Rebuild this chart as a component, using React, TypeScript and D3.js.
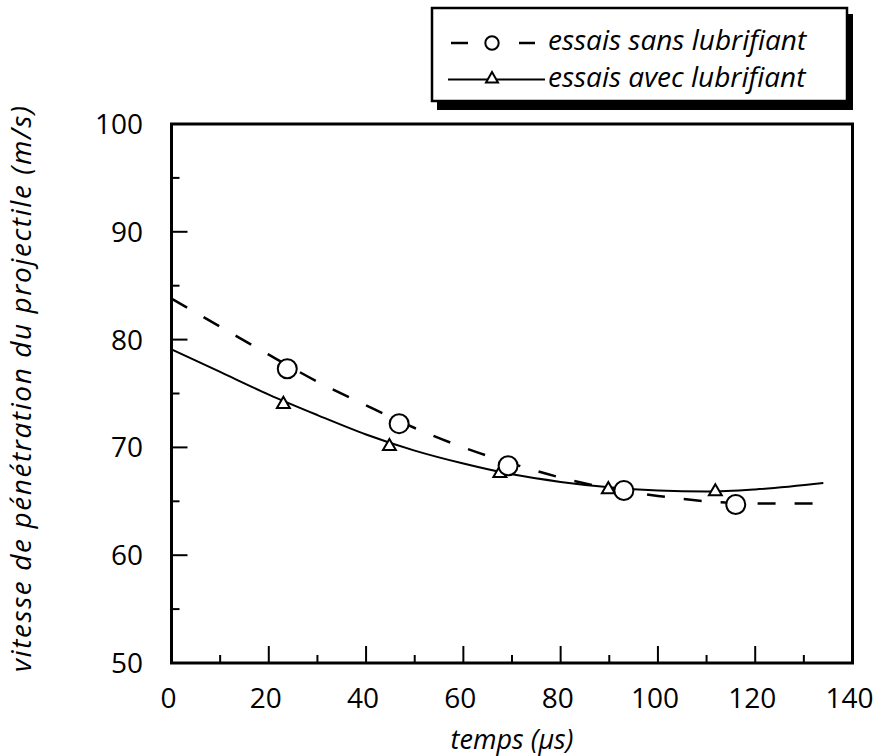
import React from "react";
import * as d3 from "d3";

// Measured points: tests without lubricant (circles)
const sansX = [23.8, 46.8, 69.2, 93.0, 116.0];
const sansY = [77.3, 72.2, 68.3, 66.0, 64.7];
// Measured points: tests with lubricant (triangles)
const avecX = [23.0, 44.8, 67.5, 89.8, 111.8];
const avecY = [74.0, 70.1, 67.6, 66.1, 65.9];
// Fitted curves
const fitSansX = [0, 10, 20, 30, 40, 50, 60, 70, 80, 90, 100, 110, 120, 134];
const fitSansY = [83.8, 81.2, 78.6, 76.1, 73.9, 71.8, 70.0, 68.5, 67.2, 66.2, 65.5, 65.0, 64.8, 64.8];
const fitAvecX = [0, 10, 20, 30, 40, 50, 60, 70, 80, 90, 100, 110, 120, 134];
const fitAvecY = [79.1, 77.0, 74.9, 73.0, 71.2, 69.7, 68.5, 67.5, 66.8, 66.3, 66.0, 65.9, 66.1, 66.7];

const xTickLabels = [0, 20, 40, 60, 80, 100, 120, 140];
const xMinorTicks = [10, 30, 50, 70, 90, 110, 130];
const yTickLabels = [50, 60, 70, 80, 90, 100];
const yMinorTicks = [55, 65, 75, 85, 95];
const legendLabels = ["essais sans lubrifiant", "essais avec lubrifiant"];
const xTitle = "temps (\u03BCs)";
const yTitle = "vitesse de pénétration du projectile (m/s)";

const FONT = "'Open Sans', 'DejaVu Sans', sans-serif";

export default function App() {
  const x = d3.scaleLinear().domain([0, 140]).range([171.5, 852.5]);
  const y = d3.scaleLinear().domain([50, 100]).range([663, 124]);
  const line = d3
    .line<[number, number]>()
    .x((d) => x(d[0]))
    .y((d) => y(d[1]))
    .curve(d3.curveMonotoneX);
  const sansPath = line(fitSansX.map((v, i) => [v, fitSansY[i]]))!;
  const avecPath = line(fitAvecX.map((v, i) => [v, fitAvecY[i]]))!;
  const tri = d3.symbol().type(d3.symbolTriangle).size(72)()!;
  const triLeg = d3.symbol().type(d3.symbolTriangle).size(62)()!;

  const [x0, x1] = x.range();
  const [yb, yt] = y.range();

  return (
    <svg
      width={883}
      height={756}
      style={{ position: "absolute", left: 0, top: 0, background: "#fff" }}
      fontFamily={FONT}
    >
      <rect x={0} y={0} width={883} height={756} fill="#fff" />
      {/* Legend with drop shadow */}
      <rect x={437} y={14} width={416} height={96} fill="#000" />
      <rect x={432} y={8} width={415} height={93} fill="#fff" stroke="#000" strokeWidth={2.5} />
      <line x1={451} x2={468} y1={43} y2={43} stroke="#000" strokeWidth={2.5} />
      <line x1={519} x2={535} y1={43} y2={43} stroke="#000" strokeWidth={2.5} />
      <circle cx={492} cy={43} r={6.7} fill="#fff" stroke="#000" strokeWidth={2} />
      <line x1={448} x2={545} y1={79.5} y2={79.5} stroke="#000" strokeWidth={1.8} />
      <path d={triLeg} transform="translate(492,79)" fill="#fff" stroke="#000" strokeWidth={2} />
      {legendLabels.map((t, i) => (
        <text key={t} x={548} y={i === 0 ? 50 : 87} fontSize={28} fontStyle="italic" fill="#000">
          {t}
        </text>
      ))}

      {/* Curves */}
      <path d={sansPath} fill="none" stroke="#000" strokeWidth={2.5} strokeDasharray="18 19" />
      <path d={avecPath} fill="none" stroke="#000" strokeWidth={2} />

      {/* Markers */}
      {avecX.map((v, i) => (
        <path
          key={"t" + i}
          d={tri}
          transform={`translate(${x(v)},${y(avecY[i])})`}
          fill="#fff"
          stroke="#000"
          strokeWidth={2}
        />
      ))}
      {sansX.map((v, i) => (
        <circle key={"c" + i} cx={x(v)} cy={y(sansY[i])} r={9.5} fill="#fff" stroke="#000" strokeWidth={2} />
      ))}

      {/* Frame */}
      <rect x={x0} y={yt} width={x1 - x0} height={yb - yt} fill="none" stroke="#000" strokeWidth={3} />

      {/* X ticks */}
      {xTickLabels.map((v) => (
        <g key={"xt" + v}>
          <line x1={x(v)} x2={x(v)} y1={yb} y2={yb - 17} stroke="#000" strokeWidth={2} />
          <text x={x(v) - 3} y={708} fontSize={28} textAnchor="middle" fill="#000">
            {v}
          </text>
        </g>
      ))}
      {xMinorTicks.map((v) => (
        <line key={"xm" + v} x1={x(v)} x2={x(v)} y1={yb} y2={yb - 8} stroke="#000" strokeWidth={2} />
      ))}

      {/* Y ticks */}
      {yTickLabels.map((v) => (
        <g key={"yt" + v}>
          <line x1={x0} x2={x0 + 16} y1={y(v)} y2={y(v)} stroke="#000" strokeWidth={2} />
          <text x={143} y={y(v) + 10} fontSize={28} textAnchor="end" fill="#000">
            {v}
          </text>
        </g>
      ))}
      {yMinorTicks.map((v) => (
        <line key={"ym" + v} x1={x0} x2={x0 + 8} y1={y(v)} y2={y(v)} stroke="#000" strokeWidth={2} />
      ))}

      {/* Axis titles */}
      <text x={512} y={749} fontSize={27} fontStyle="italic" textAnchor="middle" fill="#000">
        {xTitle}
      </text>
      <text
        transform="translate(31,389) rotate(-90)"
        fontSize={28}
        fontStyle="italic"
        textAnchor="middle"
        textLength={566}
        lengthAdjust="spacing"
        fill="#000"
      >
        {yTitle}
      </text>
    </svg>
  );
}
